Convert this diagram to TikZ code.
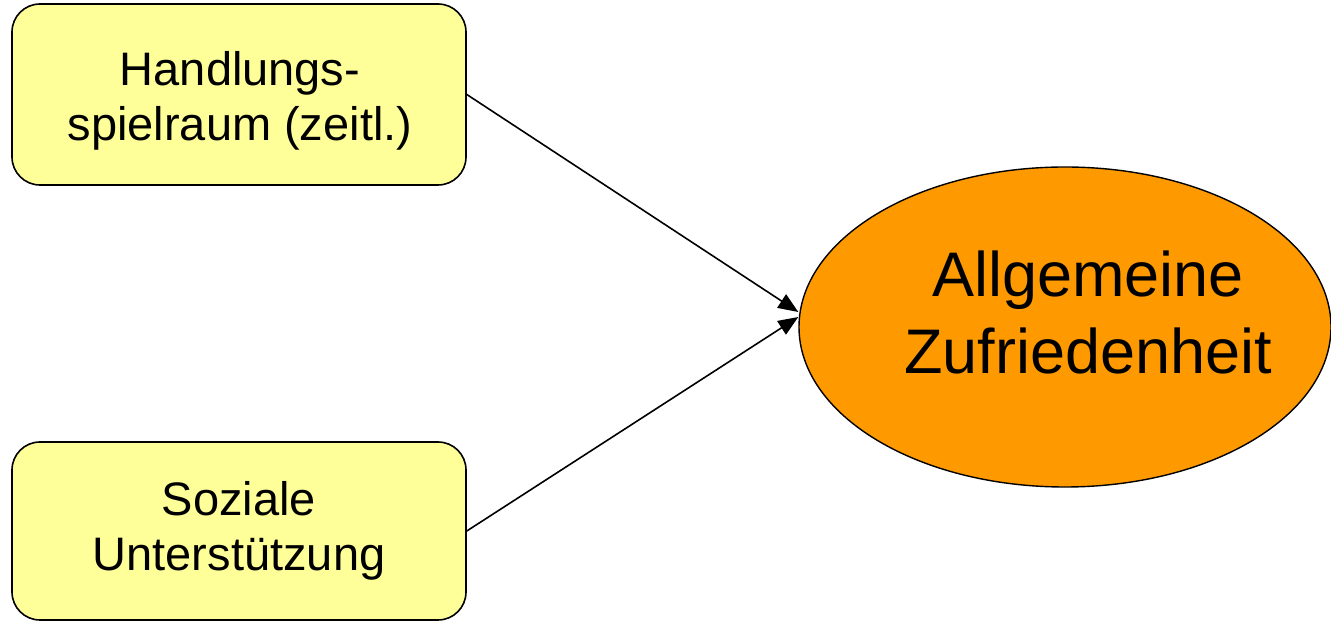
\documentclass[tikz,border=0pt]{standalone}
\usepackage{fontspec}
\setmainfont{Liberation Sans}
\usetikzlibrary{arrows.meta,shapes.geometric,calc}
\definecolor{boxyellow}{HTML}{FFFF99}
\definecolor{ellorange}{HTML}{FF9900}
\tikzset{
  factorbox/.style={draw=black, line width=1.6pt, fill=boxyellow, rounded corners=28pt,
    minimum width=454pt, minimum height=180pt, inner sep=0pt},
  boxtext/.style={align=center, inner sep=0pt, font=\fontsize{47}{55}\selectfont},
  outcome/.style={ellipse, draw=black, line width=1.4pt, fill=ellorange,
    minimum width=532pt, minimum height=320pt, inner sep=0pt},
  outtext/.style={align=center, inner sep=0pt, font=\fontsize{63}{77}\selectfont},
  link/.style={line width=1.6pt, -{Triangle[length=20pt,width=16pt]}}
}
\begin{document}
\begin{tikzpicture}[x=1pt,y=1pt]
\useasboundingbox (0,0) rectangle (1331,621);
\node[factorbox, minimum height=181pt] (hs) at (239,526.5) {};
\node[boxtext] (hstext) at ($(hs.center)+(1,-6)$) {Handlungs-\\spielraum (zeitl.)};
\node[factorbox, minimum height=178pt] (su) at (239,90) {};
\node[boxtext] (sutext) at ($(su.center)+(0,0)$) {Soziale\\Unterstützung};
\node[outcome] (az) at (1065,294) {};
\node[outtext] (aztext) at ($(az.center)+(23,15)$) {Allgemeine\\Zufriedenheit};
\coordinate (t1) at ($(az.west)+(0,15)$);
\coordinate (t2) at ($(az.west)+(0,10)$);
\draw[link] (hs.east) -- (t1);
\draw[link] (su.east) -- (t2);
\end{tikzpicture}
\end{document}
